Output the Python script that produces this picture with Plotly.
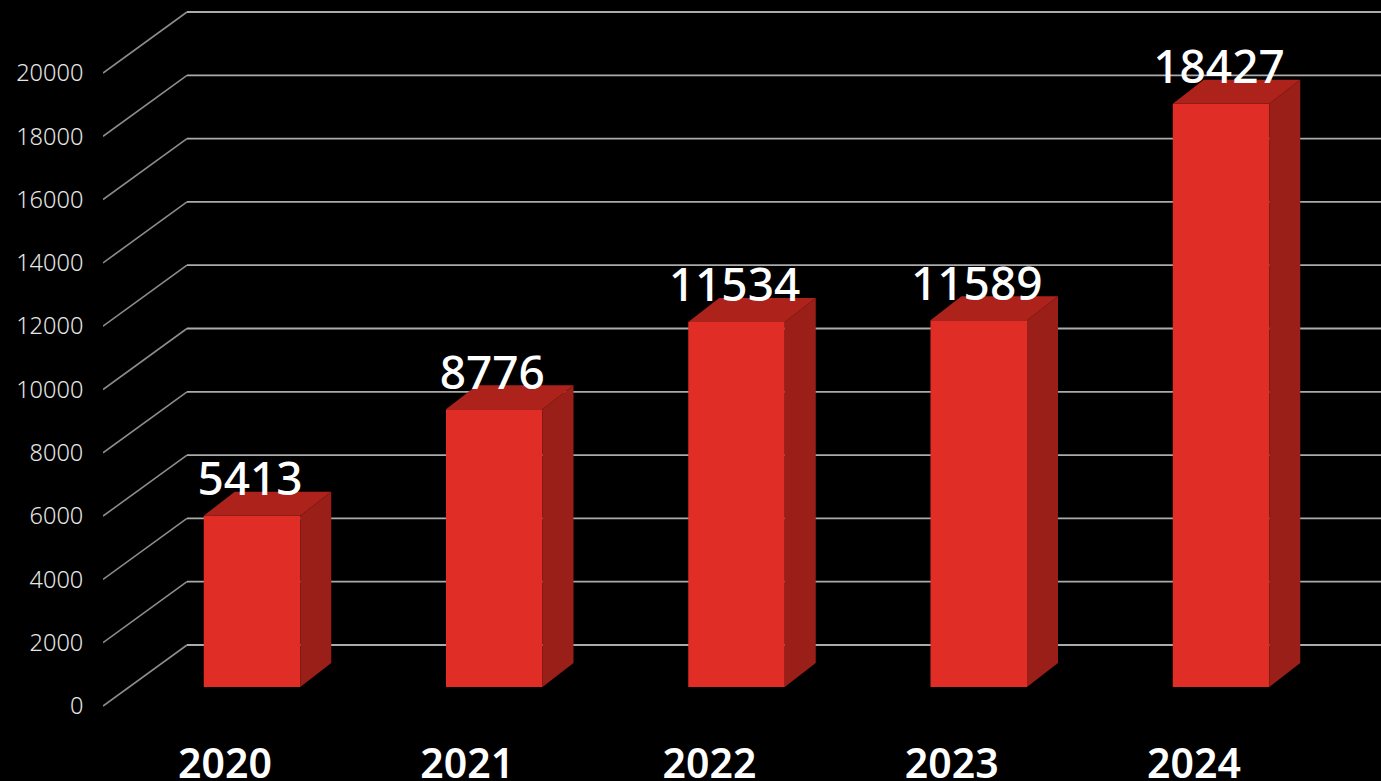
import plotly.graph_objects as go

years = ["2020", "2021", "2022", "2023", "2024"]
values = [5413, 8776, 11534, 11589, 18427]
y_ticks = [0, 2000, 4000, 6000, 8000, 10000, 12000, 14000, 16000, 18000, 20000]

W, H = 1381, 781
PX_X = 242.25          # pixels per category
PX_Y = 0.03165         # pixels per value unit
LEFT, BOTTOM = 103, 725
X0_PX, Y0_PX = 225, 706

def dx(p): return p / PX_X
def dy(p): return p / PX_Y

x_pos = list(range(len(years)))
bar_shift = dx(27)
bar_w = dx(96.5)
depth_x = dx(31)
depth_y = dy(24)
base = dy(19)
wall_x = dx(84)
wall_y = dy(61)
x_min = dx(LEFT - X0_PX)
x_max = dx(W - X0_PX)

fig = go.Figure()

# left-hand perspective segments of the gridlines
dgx, dgy, hgx, hgy = [], [], [], []
for t in y_ticks:
    dgx += [x_min, x_min + wall_x, None]
    dgy += [t, t + wall_y, None]
    hgx += [x_min + wall_x, x_max, None]
    hgy += [t + wall_y, t + wall_y, None]
fig.add_trace(go.Scatter(x=dgx, y=dgy, mode="lines", zorder=0,
                         line=dict(color="#8c8c8c", width=1.6),
                         hoverinfo="skip", cliponaxis=False))
fig.add_trace(go.Scatter(x=hgx, y=hgy, mode="lines", zorder=0,
                         line=dict(color="#ababab", width=1.8),
                         hoverinfo="skip", cliponaxis=False))

# front faces
fig.add_trace(go.Bar(x=[p + bar_shift for p in x_pos], y=values, base=base,
                     width=bar_w, zorder=1,
                     marker=dict(color="#e02d26", line=dict(width=0)),
                     hoverinfo="skip"))

# side and top faces
for p, v in zip(x_pos, values):
    l = p + bar_shift - bar_w / 2
    r = p + bar_shift + bar_w / 2
    top = base + v
    fig.add_trace(go.Scatter(
        x=[r, r + depth_x, r + depth_x, r, r],
        y=[base, base + depth_y, top + depth_y, top, base],
        fill="toself", fillcolor="#991f18", mode="none", zorder=1, hoverinfo="skip"))
    fig.add_trace(go.Scatter(
        x=[l, l + depth_x, r + depth_x, r, l],
        y=[top, top + depth_y, top + depth_y, top, top],
        fill="toself", fillcolor="#ad231c", mode="none", zorder=1, hoverinfo="skip"))

# value labels
fig.add_trace(go.Scatter(
    x=[p + bar_shift - dx(2) for p in x_pos],
    y=[base + v + depth_y - dy(15) for v in values],
    text=[str(v) for v in values],
    mode="text", textposition="top center", zorder=2,
    textfont=dict(family="Noto Sans", size=46, color="#ffffff", weight=500),
    hoverinfo="skip", cliponaxis=False))

fig.update_layout(
    width=W, height=H,
    margin=dict(l=LEFT, r=0, t=0, b=H - BOTTOM, pad=0, autoexpand=False),
    paper_bgcolor="#000000", plot_bgcolor="#000000",
    showlegend=False, hovermode=False,
    xaxis=dict(range=[x_min, x_max], tickmode="array", tickvals=x_pos, ticktext=years,
               showgrid=False, zeroline=False, showline=False, automargin=False,
               ticks="outside", ticklen=3, tickcolor="#000000",
               tickfont=dict(family="Noto Sans", size=41, color="#ffffff", weight=600)),
    yaxis=dict(range=[-(BOTTOM - Y0_PX) / PX_Y, Y0_PX / PX_Y],
               tickmode="array", tickvals=y_ticks, ticktext=[str(t) for t in y_ticks],
               showgrid=False, zeroline=False, showline=False, automargin=False,
               ticks="outside", ticklen=14, tickcolor="#000000",
               tickfont=dict(family="Noto Sans", size=23.5, color="#e6e6e6", weight=300)),
)

fig.write_html("out.html", config={"displayModeBar": False},
               post_script="document.body.style.margin='0';document.body.style.background='#000';document.documentElement.style.overflow='hidden';")
